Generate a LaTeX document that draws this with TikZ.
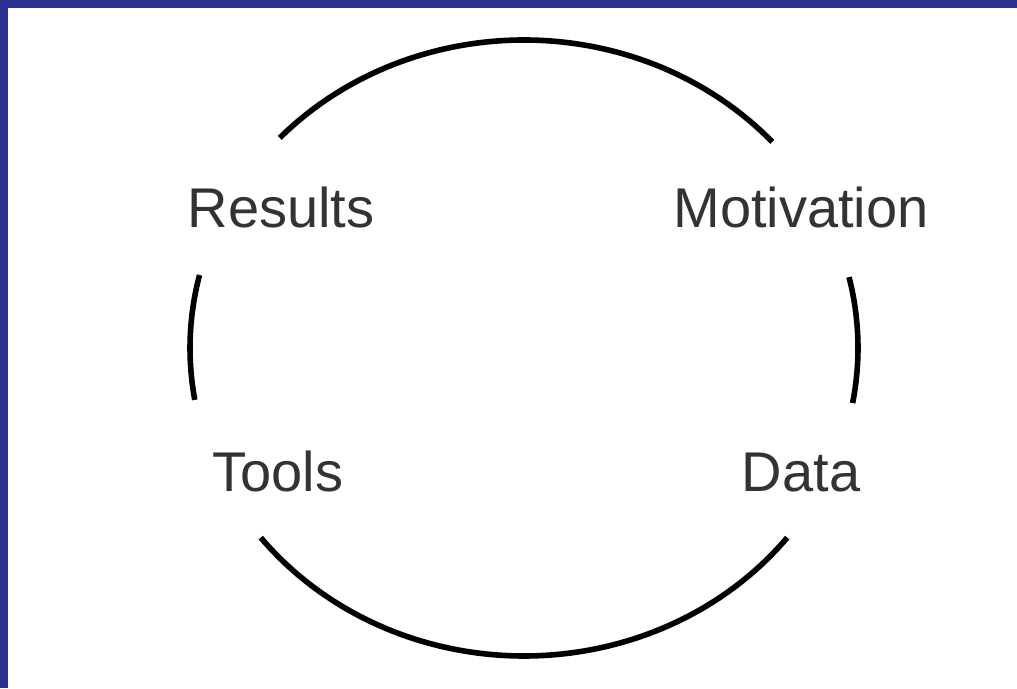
\documentclass[tikz,border=0pt]{standalone}
\usepackage{fontspec}
\setmainfont{Liberation Sans}
\definecolor{frameblue}{HTML}{2E3192}
\definecolor{labelgray}{HTML}{333333}
\begin{document}
\begin{tikzpicture}[x=1pt,y=1pt,
  arcline/.style={line width=5.6pt,black},
  lbl/.style={anchor=base,inner sep=0pt,text=labelgray,font=\fontsize{56}{60}\selectfont}]
\useasboundingbox (0,0) rectangle (1017,688);
\fill[white] (0,0) rectangle (1017,688);
\fill[frameblue] (0,680) rectangle (1017,688);
\fill[frameblue] (0,0) rectangle (8,688);
\coordinate (c) at (524,340);
% labels
\node[lbl] (results) at (281,460) {Results};
\node[lbl] (motivation) at (801,460) {Motivation};
\node[lbl] (tools) at (278,196) {Tools};
\node[lbl] (data) at (801,196) {Data};
% arcs of the cycle
\draw[arcline] (c) ++(137:334 and 308) arc[start angle=137,end angle=42,x radius=334,y radius=308];
\draw[arcline] (c) ++(13.3:334 and 308) arc[start angle=13.3,end angle=-10.3,x radius=334,y radius=308];
\draw[arcline] (c) ++(322:334 and 308) arc[start angle=322,end angle=218,x radius=334,y radius=308];
\draw[arcline] (c) ++(189.7:334 and 308) arc[start angle=189.7,end angle=166.3,x radius=334,y radius=308];
\end{tikzpicture}
\end{document}
